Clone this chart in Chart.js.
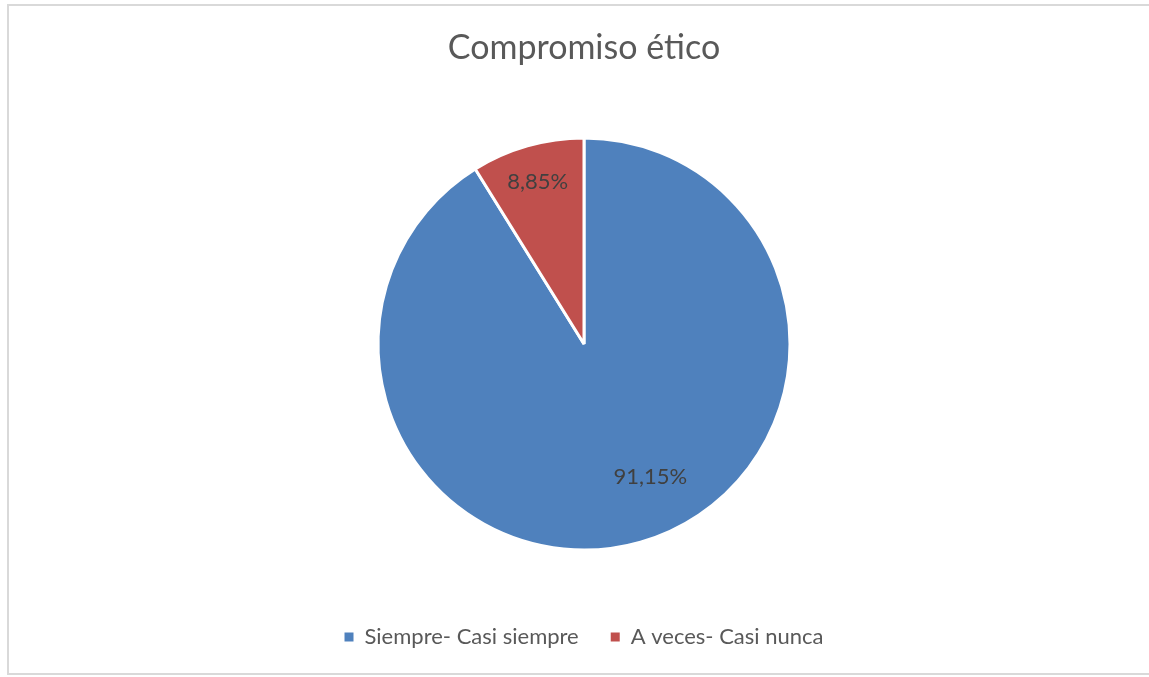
<!DOCTYPE html>
<html>
<head>
<meta charset="utf-8">
<script src="https://cdn.jsdelivr.net/npm/chart.js@4/dist/chart.umd.min.js"></script>
<style>
  html, body { margin: 0; padding: 0; background: #fff; }
  #wrap { position: relative; width: 1149px; height: 677px; }
  #frame { position: absolute; left: 7px; top: 4px; width: 1142px; height: 671px;
           border: 2px solid #d9d9d9; box-sizing: border-box; border-right: none; }
  canvas { position: absolute; left: 0; top: 0; }
</style>
</head>
<body>
<div id="wrap">
  <div id="frame"></div>
  <canvas id="pie" width="1149" height="677"></canvas>
</div>
<script>
const canvas = document.getElementById("pie");

const categories = ["Siempre- Casi siempre", "A veces- Casi nunca"];
const values = [91.15, 8.85];
const colors = ["#4F81BD", "#C0504D"];

const fmt = (v) => v.toFixed(2).replace(".", ",") + "%";

new Chart(canvas, {
  type: "pie",
  data: {
    labels: categories,
    datasets: [
      {
        data: values,
        backgroundColor: colors,
        borderColor: "#ffffff",
        borderWidth: 3,
        radius: 206,
      },
    ],
  },
  options: {
    responsive: false,
    animation: false,
    layout: { padding: { left: 19, bottom: 24 } },
    plugins: {
      title: {
        display: true,
        text: "Compromiso ético",
        color: "#595959",
        font: { family: "Lato", size: 34, weight: "normal" },
        padding: { top: 27.6, bottom: 25.6 },
      },
      legend: {
        position: "bottom",
        maxHeight: 59, // padding is big for the gap between items, keep the box short
        labels: {
          boxWidth: 9,
          boxHeight: 9,
          padding: 32,
          color: "#595959",
          font: { family: "Lato", size: 22 },
          generateLabels(chart) {
            // same as default but without the white outline on the boxes
            const items = Chart.overrides.pie.plugins.legend.labels.generateLabels(chart);
            return items.map((it) => ({ ...it, lineWidth: 0 }));
          },
        },
      },
      tooltip: { enabled: false },
      sliceLabels: {
        // where to put each value label: shift from the slice mid-angle (deg) and share of the radius
        spots: [
          { shift: -10.6, frac: 0.72 },
          { shift: 0, frac: 0.82 },
        ],
      },
    },
  },
  plugins: [
    {
      id: "sliceLabels",
      afterDatasetsDraw(chart, args, opts) {
        const ctx = chart.ctx;
        const meta = chart.getDatasetMeta(0);
        ctx.save();
        ctx.font = "22px Lato";
        ctx.fillStyle = "#404040";
        ctx.textAlign = "center";
        ctx.textBaseline = "middle";
        meta.data.forEach((arc, i) => {
          const p = arc.getProps(["x", "y", "startAngle", "endAngle", "outerRadius"], true);
          const spot = opts.spots[i] || { shift: 0, frac: 0.7 };
          const a = (p.startAngle + p.endAngle) / 2 + (spot.shift * Math.PI) / 180;
          const r = p.outerRadius * spot.frac;
          ctx.fillText(fmt(values[i]), p.x + Math.cos(a) * r, p.y + Math.sin(a) * r);
        });
        ctx.restore();
      },
    },
  ],
});
</script>
</body>
</html>
